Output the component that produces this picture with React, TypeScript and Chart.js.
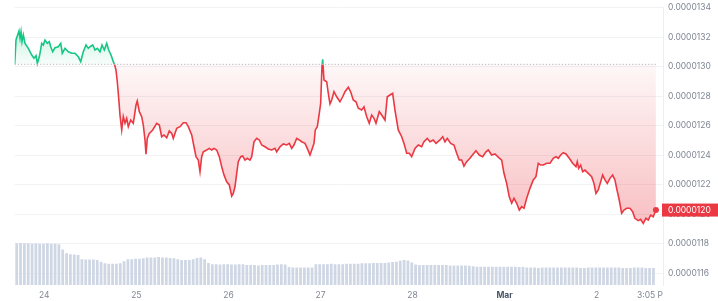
import React, { useEffect, useRef } from 'react';
import { Chart, registerables } from 'chart.js';

Chart.register(...registerables);

// Hours relative to 24 Feb 00:00 for each traced price sample
const PRICE_HOURS = [
  -7.72,-7.38,-6.60,-6.33,-6.07,-5.81,-5.47,-5.03,-4.17,-3.28,
  -2.69,-2.16,-1.82,-1.30,-0.68,-0.26,0.18,0.78,1.30,1.67,
  2.19,2.79,3.65,4.28,4.69,5.40,6.26,7.14,8.00,8.86,
  9.49,10.17,10.87,11.47,11.91,12.62,13.22,13.82,14.52,15.04,
  15.64,16.27,16.79,17.39,17.99,18.35,18.69,19.03,19.40,19.73,
  20.18,20.59,21.04,21.48,21.90,22.52,23.20,23.91,24.24,24.77,
  25.39,25.81,26.25,26.51,26.85,27.37,28.26,29.30,29.98,30.60,
  31.20,31.91,32.59,33.21,33.63,34.52,35.38,36.24,36.94,37.54,
  38.43,39.03,39.55,40.15,40.59,41.03,41.45,42.34,43.01,43.64,
  44.24,44.94,45.62,46.25,46.85,47.55,48.23,48.85,49.27,49.71,
  50.16,50.57,51.20,51.72,52.32,52.92,53.62,54.07,54.67,55.37,
  56.05,56.67,57.53,58.39,59.28,60.14,60.58,61.44,62.30,63.19,
  63.87,64.49,65.09,65.80,66.48,67.10,67.96,68.56,69.27,69.86,
  70.31,70.65,71.17,71.69,72.05,72.39,72.57,72.91,73.62,74.04,
  74.48,74.92,75.52,76.22,77.08,77.79,78.39,79.25,79.87,80.55,
  81.26,81.86,82.74,83.34,84.05,84.72,85.35,85.95,86.47,87.33,
  87.96,88.82,89.42,90.12,90.82,91.42,92.28,93.17,93.77,94.47,
  95.15,95.78,96.64,97.50,98.38,98.98,99.84,100.55,101.41,102.11,
  103.15,103.86,104.46,105.06,105.94,106.80,107.51,108.18,108.81,109.41,
  110.11,110.97,111.83,112.54,113.40,114.29,115.15,115.75,116.63,117.49,
  118.35,119.24,119.84,120.54,121.22,121.85,122.45,123.15,123.83,124.46,
  125.06,125.76,126.62,127.48,128.18,128.78,129.41,130.08,130.97,131.83,
  132.69,133.39,133.99,134.62,135.30,136.00,136.86,137.75,138.61,138.95,
  139.31,139.83,140.36,140.96,141.82,142.70,143.30,143.82,144.42,145.05,
  145.57,146.17,146.77,147.47,148.17,148.77,149.21,149.89,150.52,151.12,
  151.82,152.68,153.38,153.98,154.84,155.47,156.15,156.85,157.45,158.08,
  158.75,159.46,
];

// Price in USD
const PRICE_VALUES = [
  130.17e-7,131.82e-7,132.43e-7,131.93e-7,132.38e-7,131.70e-7,132.16e-7,131.59e-7,131.25e-7,130.80e-7,
  130.58e-7,130.75e-7,130.24e-7,130.68e-7,131.59e-7,131.48e-7,131.82e-7,131.59e-7,131.70e-7,131.36e-7,
  131.02e-7,131.29e-7,131.36e-7,131.59e-7,130.92e-7,131.25e-7,131.02e-7,130.92e-7,130.92e-7,130.68e-7,
  130.35e-7,131.02e-7,131.48e-7,131.25e-7,131.36e-7,131.48e-7,131.14e-7,131.25e-7,131.02e-7,131.48e-7,
  131.14e-7,131.59e-7,131.14e-7,130.80e-7,130.35e-7,130.12e-7,129.78e-7,128.99e-7,127.86e-7,126.73e-7,
  125.72e-7,126.62e-7,126.17e-7,126.51e-7,125.94e-7,126.39e-7,126.17e-7,127.41e-7,127.68e-7,126.96e-7,
  126.62e-7,126.05e-7,125.04e-7,124.07e-7,125.15e-7,125.49e-7,125.72e-7,126.17e-7,126.05e-7,125.26e-7,
  125.38e-7,125.19e-7,125.65e-7,125.49e-7,125.15e-7,125.83e-7,125.94e-7,126.21e-7,126.21e-7,125.94e-7,
  125.38e-7,124.58e-7,123.91e-7,123.68e-7,122.89e-7,123.91e-7,124.24e-7,124.36e-7,124.47e-7,124.36e-7,
  124.47e-7,124.36e-7,123.91e-7,123.23e-7,122.66e-7,122.21e-7,121.99e-7,121.24e-7,121.42e-7,121.87e-7,
  122.78e-7,123.57e-7,123.91e-7,123.95e-7,123.68e-7,123.80e-7,123.68e-7,123.91e-7,124.92e-7,125.15e-7,
  125.04e-7,124.70e-7,124.58e-7,124.43e-7,124.36e-7,124.47e-7,124.24e-7,124.58e-7,124.77e-7,124.70e-7,
  124.81e-7,124.47e-7,124.70e-7,125.15e-7,125.04e-7,124.92e-7,124.81e-7,124.47e-7,124.02e-7,124.47e-7,
  124.81e-7,125.72e-7,125.94e-7,126.85e-7,127.53e-7,130.01e-7,130.51e-7,129.11e-7,128.99e-7,128.20e-7,
  127.48e-7,127.75e-7,128.31e-7,127.97e-7,127.63e-7,127.97e-7,128.31e-7,128.61e-7,128.31e-7,127.75e-7,
  127.63e-7,127.19e-7,127.07e-7,127.29e-7,126.62e-7,126.17e-7,126.73e-7,126.51e-7,126.17e-7,126.96e-7,
  126.73e-7,126.39e-7,127.97e-7,128.09e-7,128.20e-7,127.07e-7,125.72e-7,125.26e-7,124.81e-7,124.14e-7,
  124.14e-7,123.91e-7,124.47e-7,124.70e-7,124.58e-7,124.92e-7,125.15e-7,124.92e-7,125.04e-7,124.81e-7,
  125.04e-7,125.26e-7,124.92e-7,125.15e-7,124.81e-7,124.70e-7,124.14e-7,123.68e-7,123.68e-7,123.27e-7,
  123.57e-7,123.80e-7,124.09e-7,124.31e-7,124.02e-7,123.91e-7,124.24e-7,124.36e-7,124.02e-7,124.09e-7,
  123.88e-7,123.68e-7,122.78e-7,122.10e-7,121.19e-7,120.75e-7,121.09e-7,120.75e-7,120.29e-7,120.52e-7,
  120.41e-7,121.09e-7,121.76e-7,122.33e-7,122.55e-7,123.46e-7,123.34e-7,123.34e-7,123.46e-7,123.46e-7,
  123.80e-7,123.91e-7,123.80e-7,124.02e-7,124.18e-7,124.09e-7,123.80e-7,123.46e-7,123.23e-7,123.57e-7,
  123.12e-7,123.34e-7,122.89e-7,123.00e-7,122.78e-7,122.55e-7,122.10e-7,121.42e-7,121.65e-7,122.21e-7,
  122.66e-7,122.33e-7,122.10e-7,122.44e-7,122.66e-7,122.33e-7,121.76e-7,120.97e-7,120.07e-7,120.29e-7,
  120.41e-7,120.41e-7,120.18e-7,119.73e-7,119.57e-7,119.66e-7,119.39e-7,119.73e-7,119.61e-7,119.95e-7,
  119.84e-7,120.29e-7,
];

// Hourly 24h-volume bars (relative units), first bar hour:
const VOLUME_START_HOUR = -7.2;
const VOLUME_VALUES = [
  100,101,100,100,99,100,99,99,100,99,99,98,
  85,76,74,73,72,
  62,61,61,61,60,
  56,52,51,51,51,52,
  57,62,62,63,63,64,
  66,66,66,67,66,66,65,64,
  62,60,60,60,62,65,66,62,
  53,50,50,49,50,50,49,49,50,50,
  48,48,48,47,48,48,48,48,49,50,49,
  43,42,42,42,42,42,42,
  50,50,50,50,51,50,50,50,51,51,51,51,
  52,52,52,53,53,53,53,54,55,56,58,60,59,54,
  49,48,48,48,48,48,48,48,48,47,47,47,47,47,46,
  45,44,44,44,44,44,44,44,44,44,44,44,43,43,
  42,42,42,41,42,42,42,42,42,42,42,42,42,42,41,41,42,
  42,42,42,42,42,42,42,42,41,41,41,42,42,42,41,41,41,
];
const VOLUME_AXIS_MAX = 665;

const X_TICK_HOURS = [0, 24, 48, 72, 96, 120, 144, 157.9];
const X_TICK_LABELS = ['24', '25', '26', '27', '28', 'Mar', '2', '3:05 P'];
const X_MIN = -7.72;
const X_MAX = 161.3;

const Y_TICKS = [116e-7, 118e-7, 120e-7, 122e-7, 124e-7, 126e-7, 128e-7, 130e-7, 132e-7, 134e-7];
const Y_MIN = 115.21e-7;
const Y_MAX = 134e-7;

const GREEN = '#16c784';
const RED = '#ea3943';
const FONT = 'Inter, "Noto Sans", sans-serif';

export default function App() {
  const ref = useRef<HTMLCanvasElement | null>(null);

  useEffect(() => {
    const canvas = ref.current;
    if (!canvas) return;
    const base = PRICE_VALUES[0];
    const last = PRICE_VALUES.length - 1;
    const priceData = PRICE_HOURS.map((h, i) => ({ x: h, y: PRICE_VALUES[i] }));
    const volData = VOLUME_VALUES.map((v, i) => ({ x: VOLUME_START_HOUR + i, y: v }));

    const splitClip = {
      id: 'splitClip',
      beforeDatasetDraw(chart: any, args: any) {
        if (args.index !== 0 && args.index !== 1) return;
        const { ctx, chartArea } = chart;
        const y = chart.scales.y.getPixelForValue(base);
        ctx.save();
        ctx.beginPath();
        if (args.index === 1) ctx.rect(chartArea.left - 5, 0, chartArea.width + 10, y);
        else ctx.rect(chartArea.left - 5, y, chartArea.width + 10, chart.height - y);
        ctx.clip();
      },
      afterDatasetDraw(chart: any, args: any) {
        if (args.index !== 0 && args.index !== 1) return;
        chart.ctx.restore();
      },
    };

    const priceTag = {
      id: 'priceTag',
      afterDraw(chart: any) {
        const { ctx, chartArea } = chart;
        const p = PRICE_VALUES[last];
        const y = chart.scales.y.getPixelForValue(p);
        ctx.save();
        ctx.fillStyle = RED;
        ctx.fillRect(chartArea.right - 1, y - 6.5, chart.width - chartArea.right + 1, 13);
        ctx.fillStyle = '#ffffff';
        ctx.font = `8.5px ${FONT}`;
        ctx.textAlign = 'left';
        ctx.textBaseline = 'middle';
        ctx.fillText(p.toFixed(7), chartArea.right + 5, y + 0.5);
        ctx.restore();
      },
    };

    const chart = new Chart(canvas, {
      type: 'line',
      data: {
        datasets: [
          {
            type: 'line',
            data: priceData,
            borderColor: RED,
            borderWidth: 1.6,
            tension: 0,
            fill: { value: base, above: 'rgba(22,199,132,0.12)', below: 'rgba(234,57,67,0.15)' },
            pointRadius: (ctx: any) => (ctx.dataIndex === last ? 3 : 0),
            pointBackgroundColor: RED,
            pointBorderWidth: 0,
            order: 2,
          } as any,
          {
            type: 'line',
            data: priceData,
            borderColor: GREEN,
            borderWidth: 1.6,
            tension: 0,
            fill: false,
            pointRadius: 0,
            order: 3,
          } as any,
          {
            type: 'line',
            data: [
              { x: PRICE_HOURS[0], y: base },
              { x: PRICE_HOURS[last], y: base },
            ],
            borderColor: '#b4b8bf',
            borderWidth: 1,
            borderDash: [1.2, 2],
            fill: false,
            pointRadius: 0,
            order: 1,
          } as any,
          {
            type: 'bar',
            data: volData,
            yAxisID: 'yv',
            backgroundColor: '#cfd7e5',
            borderWidth: 0,
            barPercentage: 0.72,
            categoryPercentage: 1,
            order: 5,
          } as any,
        ],
      },
      options: {
        animation: false,
        responsive: false,
        maintainAspectRatio: false,
        layout: { padding: { left: 14.7, top: 7.8, right: 0, bottom: 0 } },
        plugins: { legend: { display: false }, tooltip: { enabled: false } },
        scales: {
          x: {
            type: 'linear',
            min: X_MIN,
            max: X_MAX,
            offset: false,
            grid: { display: false, drawTicks: false, offset: false },
            border: { display: false },
            afterBuildTicks: (scale: any) => {
              scale.ticks = X_TICK_HOURS.map((v) => ({ value: v }));
            },
            afterFit: (scale: any) => {
              scale.height = 16;
              scale.paddingLeft = 0;
              scale.paddingRight = 0;
            },
            ticks: {
              autoSkip: false,
              maxRotation: 0,
              padding: 5,
              callback: (_v: any, i: number) => X_TICK_LABELS[i],
              color: (ctx: any) => (X_TICK_LABELS[ctx.index] === 'Mar' ? '#4a5568' : '#7f8794'),
              font: (ctx: any) => ({
                family: FONT,
                size: 8.5,
                weight: X_TICK_LABELS[ctx.index] === 'Mar' ? 'bold' : 'normal',
              }),
            },
          },
          y: {
            type: 'linear',
            position: 'right',
            min: Y_MIN,
            max: Y_MAX,
            grid: { color: '#f1f2f4', drawTicks: false },
            border: { display: true, color: '#eceef2' },
            afterBuildTicks: (scale: any) => {
              scale.ticks = Y_TICKS.map((v) => ({ value: v }));
            },
            afterFit: (scale: any) => {
              scale.width = 55;
              scale.paddingTop = 0;
              scale.paddingBottom = 0;
            },
            ticks: {
              padding: 5,
              color: '#7f8794',
              font: { family: FONT, size: 8.5 },
              callback: (v: any) => Number(v).toFixed(7),
            },
          },
          yv: {
            type: 'linear',
            display: false,
            min: 0,
            max: VOLUME_AXIS_MAX,
          },
        },
      } as any,
      plugins: [splitClip, priceTag],
    });

    // Gradients need the laid-out scales
    const ctx = chart.ctx;
    const ys = chart.scales.y;
    const basePx = ys.getPixelForValue(base);
    const topPx = ys.getPixelForValue(Math.max(...PRICE_VALUES));
    const lowPx = ys.getPixelForValue(Math.min(...PRICE_VALUES));
    const gAbove = ctx.createLinearGradient(0, basePx, 0, topPx);
    gAbove.addColorStop(0, 'rgba(22,199,132,0.03)');
    gAbove.addColorStop(1, 'rgba(22,199,132,0.22)');
    const gBelow = ctx.createLinearGradient(0, basePx, 0, lowPx);
    gBelow.addColorStop(0, 'rgba(234,57,67,0.04)');
    gBelow.addColorStop(1, 'rgba(234,57,67,0.32)');
    (chart.data.datasets[0] as any).fill = { value: base, above: gAbove, below: gBelow };
    chart.update();

    return () => chart.destroy();
  }, []);

  return (
    <div style={{ position: 'absolute', left: 0, top: 0, width: 718, height: 301, background: '#fff' }}>
      <canvas ref={ref} width={718} height={301} />
    </div>
  );
}
